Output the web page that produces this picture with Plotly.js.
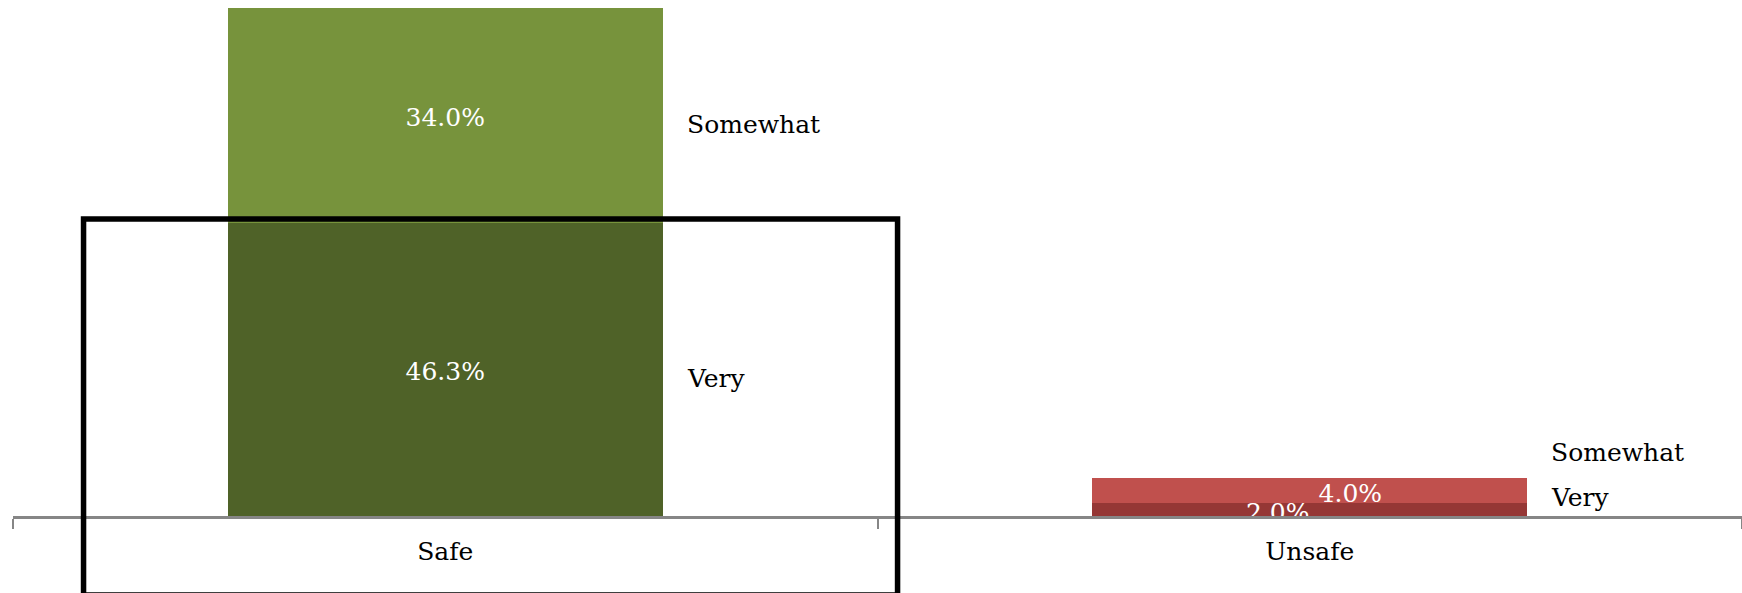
<!DOCTYPE html>
<html>
<head>
<meta charset="utf-8">
<script src="https://cdn.plot.ly/plotly-3.0.1.min.js"></script>
<style>html,body{margin:0;padding:0;background:#fff;}#chart{width:1742px;height:593px;}</style>
</head>
<body>
<div id="chart"></div>
<script>
// ---- data ----
const categories = ['Safe', 'Unsafe'];
const seriesNames = ['Very', 'Somewhat'];
const veryValues = [46.3, 2.0];
const somewhatValues = [34.0, 4.0];

// ---- styling ----
const FONT = "'DejaVu Serif', Georgia, serif";
const veryColors = ['#4F6228', '#953735'];
const somewhatColors = ['#77933C', '#C0504D'];
const BAR_W = 0.503;
const AXIS_GRAY = '#868686';
const W = 1742, H = 593, MT = 8, MB = 77;

const xs = categories.map((c, i) => i);
const totals = veryValues.map((v, i) => v + somewhatValues[i]);
const yMax = Math.max(...totals);
const pxPerUnit = (H - MT - MB) / yMax;

// value-label nudges (avoid overlap on the thin bar): x in category units, drop in px
const veryNudge = [0, -0.037];
const someNudge = [0, 0.047];
const labelDropPx = [4, 5.5];
// series-name label vertical nudges in px
const veryNameShift = [-9, 12];
const someNameShift = [-9, 38];

const traces = [
  {type: 'bar', name: seriesNames[0], x: xs, y: veryValues, width: BAR_W,
   marker: {color: veryColors}, hoverinfo: 'none'},
  {type: 'bar', name: seriesNames[1], x: xs, y: somewhatValues, width: BAR_W,
   marker: {color: somewhatColors}, hoverinfo: 'none'},
  {type: 'scatter', mode: 'text', xaxis: 'x2', yaxis: 'y', cliponaxis: true,
   x: xs.map((x, i) => x + veryNudge[i]).concat(xs.map((x, i) => x + someNudge[i])),
   y: veryValues.map((v, i) => v / 2 - labelDropPx[i] / pxPerUnit)
      .concat(somewhatValues.map((v, i) => veryValues[i] + v / 2 - labelDropPx[i] / pxPerUnit)),
   text: veryValues.map(v => v.toFixed(1) + '%').concat(somewhatValues.map(v => v.toFixed(1) + '%')),
   textposition: 'middle center',
   textfont: {family: FONT, size: 25, color: '#ffffff'},
   hoverinfo: 'none', showlegend: false}
];

const annotations = [];
xs.forEach((x, i) => {
  annotations.push({xref: 'x', yref: 'y', x: x + BAR_W / 2, y: veryValues[i] / 2,
    text: seriesNames[0], showarrow: false, xanchor: 'left', yanchor: 'middle',
    xshift: 22, yshift: veryNameShift[i], font: {family: FONT, size: 25, color: '#000'}});
  annotations.push({xref: 'x', yref: 'y', x: x + BAR_W / 2, y: veryValues[i] + somewhatValues[i] / 2,
    text: seriesNames[1], showarrow: false, xanchor: 'left', yanchor: 'middle',
    xshift: 22, yshift: someNameShift[i], font: {family: FONT, size: 25, color: '#000'}});
});

const layout = {
  width: W, height: H,
  margin: {l: 13, r: 0, t: MT, b: MB, pad: 0},
  paper_bgcolor: '#ffffff', plot_bgcolor: '#ffffff',
  barmode: 'stack',
  showlegend: false,
  font: {family: FONT, size: 25, color: '#000'},
  xaxis: {
    type: 'linear', range: [-0.5, categories.length - 0.5],
    tickvals: xs, ticktext: categories, ticks: '',
    showline: false, showgrid: false, zeroline: false,
    tickfont: {family: FONT, size: 25, color: '#000'},
    ticklabelstandoff: 18, fixedrange: true
  },
  xaxis2: {
    type: 'linear', overlaying: 'x', anchor: 'y', side: 'bottom',
    range: [-0.5, categories.length - 0.5],
    tickvals: xs.map(x => x - 0.5).concat([categories.length - 0.5]),
    ticks: 'outside', ticklen: 10, tickwidth: 2, tickcolor: AXIS_GRAY,
    showticklabels: false, showline: true, linecolor: AXIS_GRAY, linewidth: 2.5,
    showgrid: false, zeroline: false, fixedrange: true
  },
  yaxis: {
    range: [0, yMax], visible: false, showgrid: false, zeroline: false, fixedrange: true
  },
  annotations: annotations,
  shapes: [{
    type: 'rect', xref: 'paper', yref: 'paper', layer: 'above',
    x0: 0.0408, x1: 0.5116, y0: -0.1555, y1: 0.5846,
    line: {color: '#000000', width: 5.5}, fillcolor: 'rgba(0,0,0,0)'
  }]
};

Plotly.newPlot('chart', traces, layout, {displayModeBar: false, staticPlot: true});
</script>
</body>
</html>
